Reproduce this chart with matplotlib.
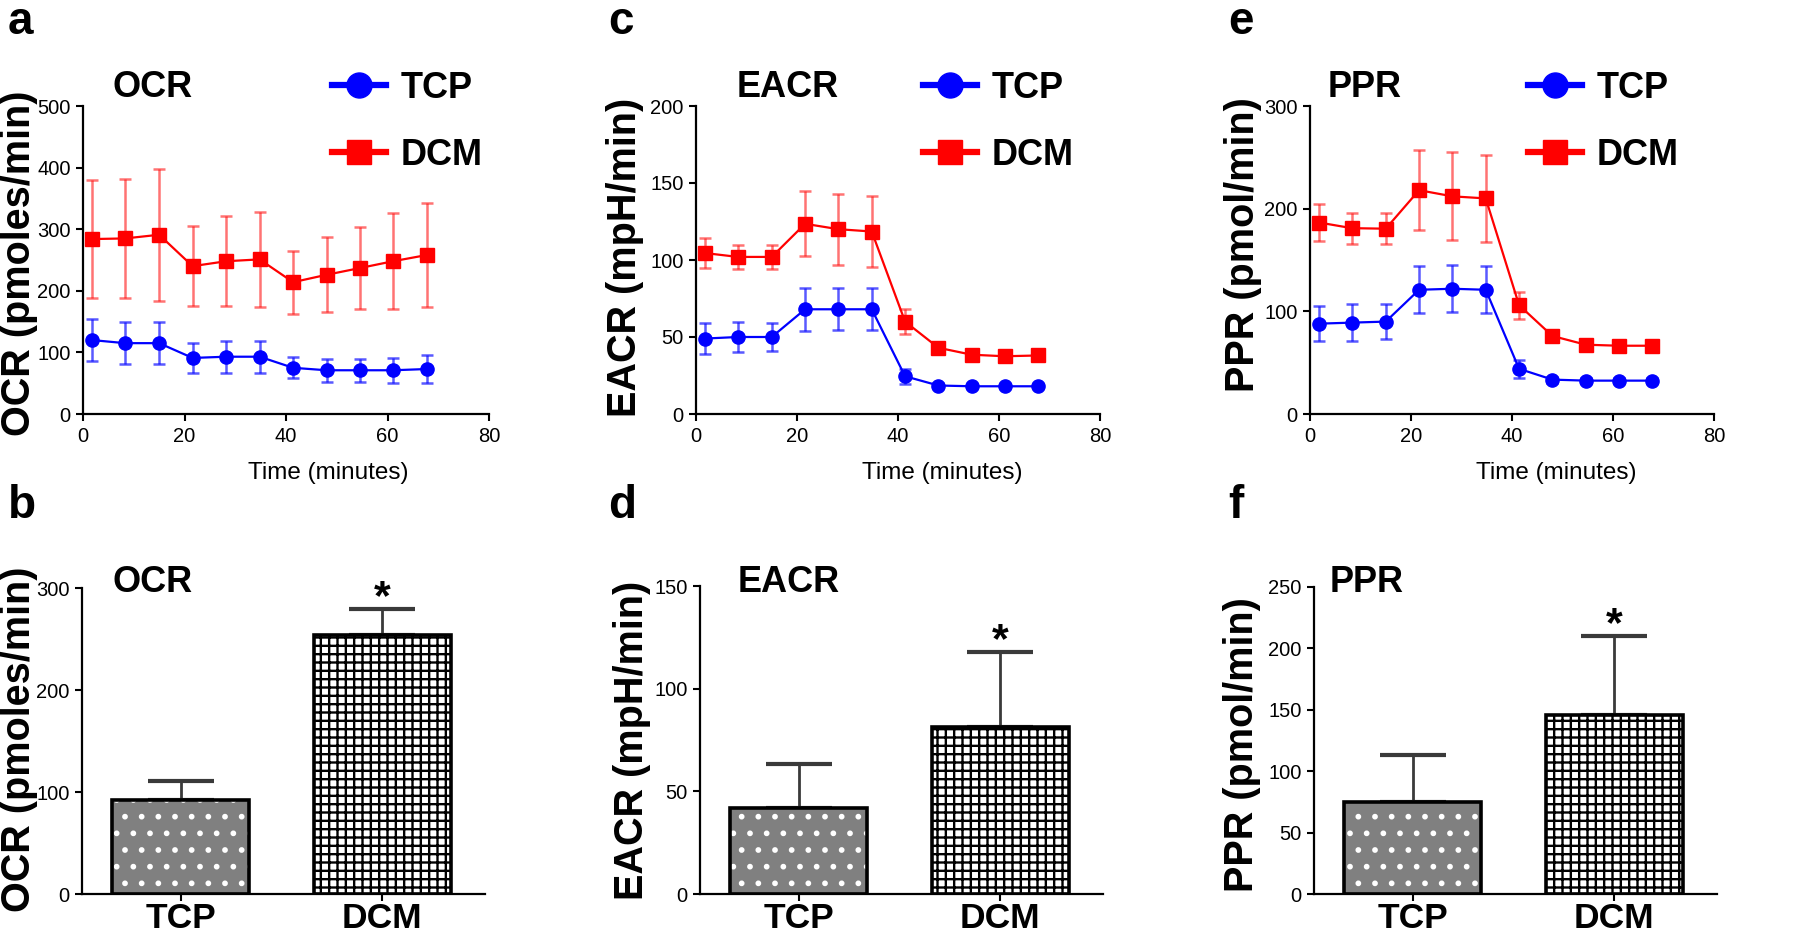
import matplotlib
matplotlib.use('Agg')
import matplotlib.pyplot as plt
from matplotlib.lines import Line2D

# ---------------- data ----------------
time_min = [1.8, 8.3, 15.0, 21.6, 28.2, 34.8, 41.4, 48.0, 54.6, 61.1, 67.7]
series_names = ['TCP', 'DCM']

ocr_tcp = [120, 115, 115, 91, 93, 93, 75, 71, 71, 71, 73]
ocr_tcp_err = [34, 34, 34, 25, 26, 26, 17, 19, 19, 20, 23]
ocr_dcm = [284, 285, 291, 240, 248, 251, 214, 226, 237, 248, 258]
ocr_dcm_err = [96, 97, 107, 65, 73, 77, 51, 61, 67, 78, 84]

eacr_tcp = [49, 50, 50, 68, 68, 68, 24.5, 18.5, 18, 18, 18]
eacr_tcp_err = [10, 9.5, 9, 14, 13.5, 13.5, 5, 1.5, 1, 1, 1]
eacr_dcm = [104.5, 102, 102, 123.5, 120, 118.5, 60, 43, 38.5, 37.5, 38]
eacr_dcm_err = [10, 8, 8, 21, 23, 23, 8, 3, 2, 2, 2]

ppr_tcp = [88, 89, 90, 121, 122, 121, 44, 33.5, 32.5, 32.5, 32.5]
ppr_tcp_err = [17, 18, 17, 23, 23, 23, 8.5, 3, 2.5, 2.5, 2.5]
ppr_dcm = [186.5, 181, 180.5, 218, 212, 210, 106, 76, 67.5, 66.5, 66.5]
ppr_dcm_err = [18, 15, 15, 39, 43, 42, 13, 3, 2, 2, 2]

bar_categories = ['TCP', 'DCM']
ocr_bar = [92.5, 254]
ocr_bar_err = [18.5, 25]
eacr_bar = [42, 81.5]
eacr_bar_err = [21.5, 36.5]
ppr_bar = [75, 145.5]
ppr_bar_err = [38, 64.5]
significance = ['', '*']

panel_letters = ['a', 'c', 'e', 'b', 'd', 'f']
titles = ['OCR', 'EACR', 'PPR']
ylabels = ['OCR (pmoles/min)', 'EACR (mpH/min)', 'PPR (pmol/min)']
xlabel_time = 'Time (minutes)'

# ---------------- style ----------------
ARIAL = ['Liberation Sans', 'DejaVu Sans']
plt.rcParams['font.family'] = ARIAL
plt.rcParams['hatch.linewidth'] = 1.7
plt.rcParams['axes.linewidth'] = 1.6

W, H = 1798, 940
fig = plt.figure(figsize=(W / 100, H / 100), dpi=100)


def fx(p):
    return p / W


def fy(p):
    return 1 - p / H


def axrect(l, r, t, b):
    return [fx(l), fy(b), (r - l) / W, (b - t) / H]


def style_axes(ax):
    for s in ['top', 'right']:
        ax.spines[s].set_visible(False)
    ax.tick_params(direction='out', length=5, width=1.5, labelsize=14.5, pad=4)


def line_panel(rect, ymax, ystep, tcp, tcp_e, dcm, dcm_e, legend_x):
    ax = fig.add_axes(rect)
    ax.errorbar(time_min, dcm, yerr=dcm_e, color='#ff0000', marker='s', ms=9.5,
                lw=1.6, ecolor=(1, 0, 0, 0.55), elinewidth=1.8, capsize=4,
                capthick=1.8, zorder=3, clip_on=False)
    ax.errorbar(time_min, tcp, yerr=tcp_e, color='#0000ff', marker='o', ms=9.5,
                lw=1.6, ecolor=(0, 0, 1, 0.65), elinewidth=1.8, capsize=4,
                capthick=1.8, zorder=3, clip_on=False)
    ax.set_xlim(0, 80)
    ax.set_ylim(0, ymax)
    ax.set_xticks(range(0, 81, 20))
    ax.set_yticks(range(0, ymax + 1, ystep))
    style_axes(ax)
    handles = [Line2D([], [], color='#0000ff', lw=4.5, marker='o', ms=18),
               Line2D([], [], color='#ff0000', lw=4.5, marker='s', ms=17)]
    ax.legend(handles, series_names, loc='upper left',
              bbox_to_anchor=(fx(legend_x), fy(71)), bbox_transform=fig.transFigure,
              frameon=False, borderpad=0, borderaxespad=0, handlelength=1.5,
              handletextpad=0.4, labelspacing=0.88,
              prop={'family': ARIAL, 'weight': 'bold', 'size': 26})
    return ax


def bar_panel(rect, ymax, ystep, vals, errs):
    ax = fig.add_axes(rect)
    x = list(range(len(bar_categories)))
    w = 0.68
    ax.errorbar(x, vals, yerr=[[0] * len(errs), errs], fmt='none', ecolor='#3a3a3a',
                elinewidth=2, capsize=24, capthick=3, zorder=1)
    ax.bar(x, vals, width=w, color=['#808080', 'white'], edgecolor='none', zorder=2)
    ax.bar(x[0], vals[0], width=w, facecolor='none', edgecolor='white', lw=0,
           hatch='.', zorder=3)
    ax.bar(x[1], vals[1], width=w, facecolor='none', edgecolor='black', lw=0,
           hatch='++', zorder=3)
    ax.bar(x, vals, width=w, facecolor='none', edgecolor='black', lw=2.6, zorder=4)
    for xi, v, e, s in zip(x, vals, errs, significance):
        if s:
            ax.text(xi, v + e, s, ha='center', va='baseline', fontsize=31,
                    fontweight='bold', clip_on=False)
    ax.set_xlim(-0.49, 1.51)
    ax.set_ylim(0, ymax)
    ax.set_yticks(range(0, ymax + 1, ystep))
    ax.set_xticks(x)
    ax.set_xticklabels(bar_categories)
    style_axes(ax)
    ax.tick_params(axis='x', length=5, pad=0.5)
    for lbl in ax.get_xticklabels():
        lbl.set_fontsize(25.5)
        lbl.set_fontweight('bold')
    return ax


# top row: line panels
line_panel(axrect(83, 489, 106, 414), 500, 100, ocr_tcp, ocr_tcp_err, ocr_dcm, ocr_dcm_err, 332)
line_panel(axrect(696, 1100, 106, 414), 200, 50, eacr_tcp, eacr_tcp_err, eacr_dcm, eacr_dcm_err, 923)
line_panel(axrect(1310, 1714, 106, 414), 300, 100, ppr_tcp, ppr_tcp_err, ppr_dcm, ppr_dcm_err, 1528)

# bottom row: bar panels
bar_panel(axrect(82, 485, 588, 894), 300, 100, ocr_bar, ocr_bar_err)
bar_panel(axrect(700, 1103, 586, 894), 150, 50, eacr_bar, eacr_bar_err)
bar_panel(axrect(1314, 1717, 587, 894), 250, 50, ppr_bar, ppr_bar_err)

# x labels (time)
for cx in [328, 942, 1556]:
    fig.text(fx(cx), fy(479), xlabel_time, ha='center', va='baseline', fontsize=17.5)

# titles
title_pos = [(112, 97), (737, 97), (1328, 97), (113, 592), (738, 592), (1330, 592)]
for i, (px, py) in enumerate(title_pos):
    fig.text(fx(px), fy(py), titles[i % 3], ha='left', va='baseline', fontsize=26,
             fontweight='bold')

# y labels
ylab_pos = [(19, 263), (625, 257), (1243, 245), (19, 739), (632, 740), (1242, 745)]
for i, (px, py) in enumerate(ylab_pos):
    fig.text(fx(px), fy(py), ylabels[i % 3], rotation=90, ha='center', va='center',
             fontsize=28.5, fontweight='bold')

# panel letters
letter_pos = [(8, 34), (608, 34), (1228, 34), (8, 518), (608, 518), (1228, 518)]
for L, (px, py) in zip(panel_letters, letter_pos):
    fig.text(fx(px), fy(py), L, ha='left', va='baseline', fontsize=33,
             fontweight='bold')

fig.savefig('out.png', dpi=100, facecolor='white')
